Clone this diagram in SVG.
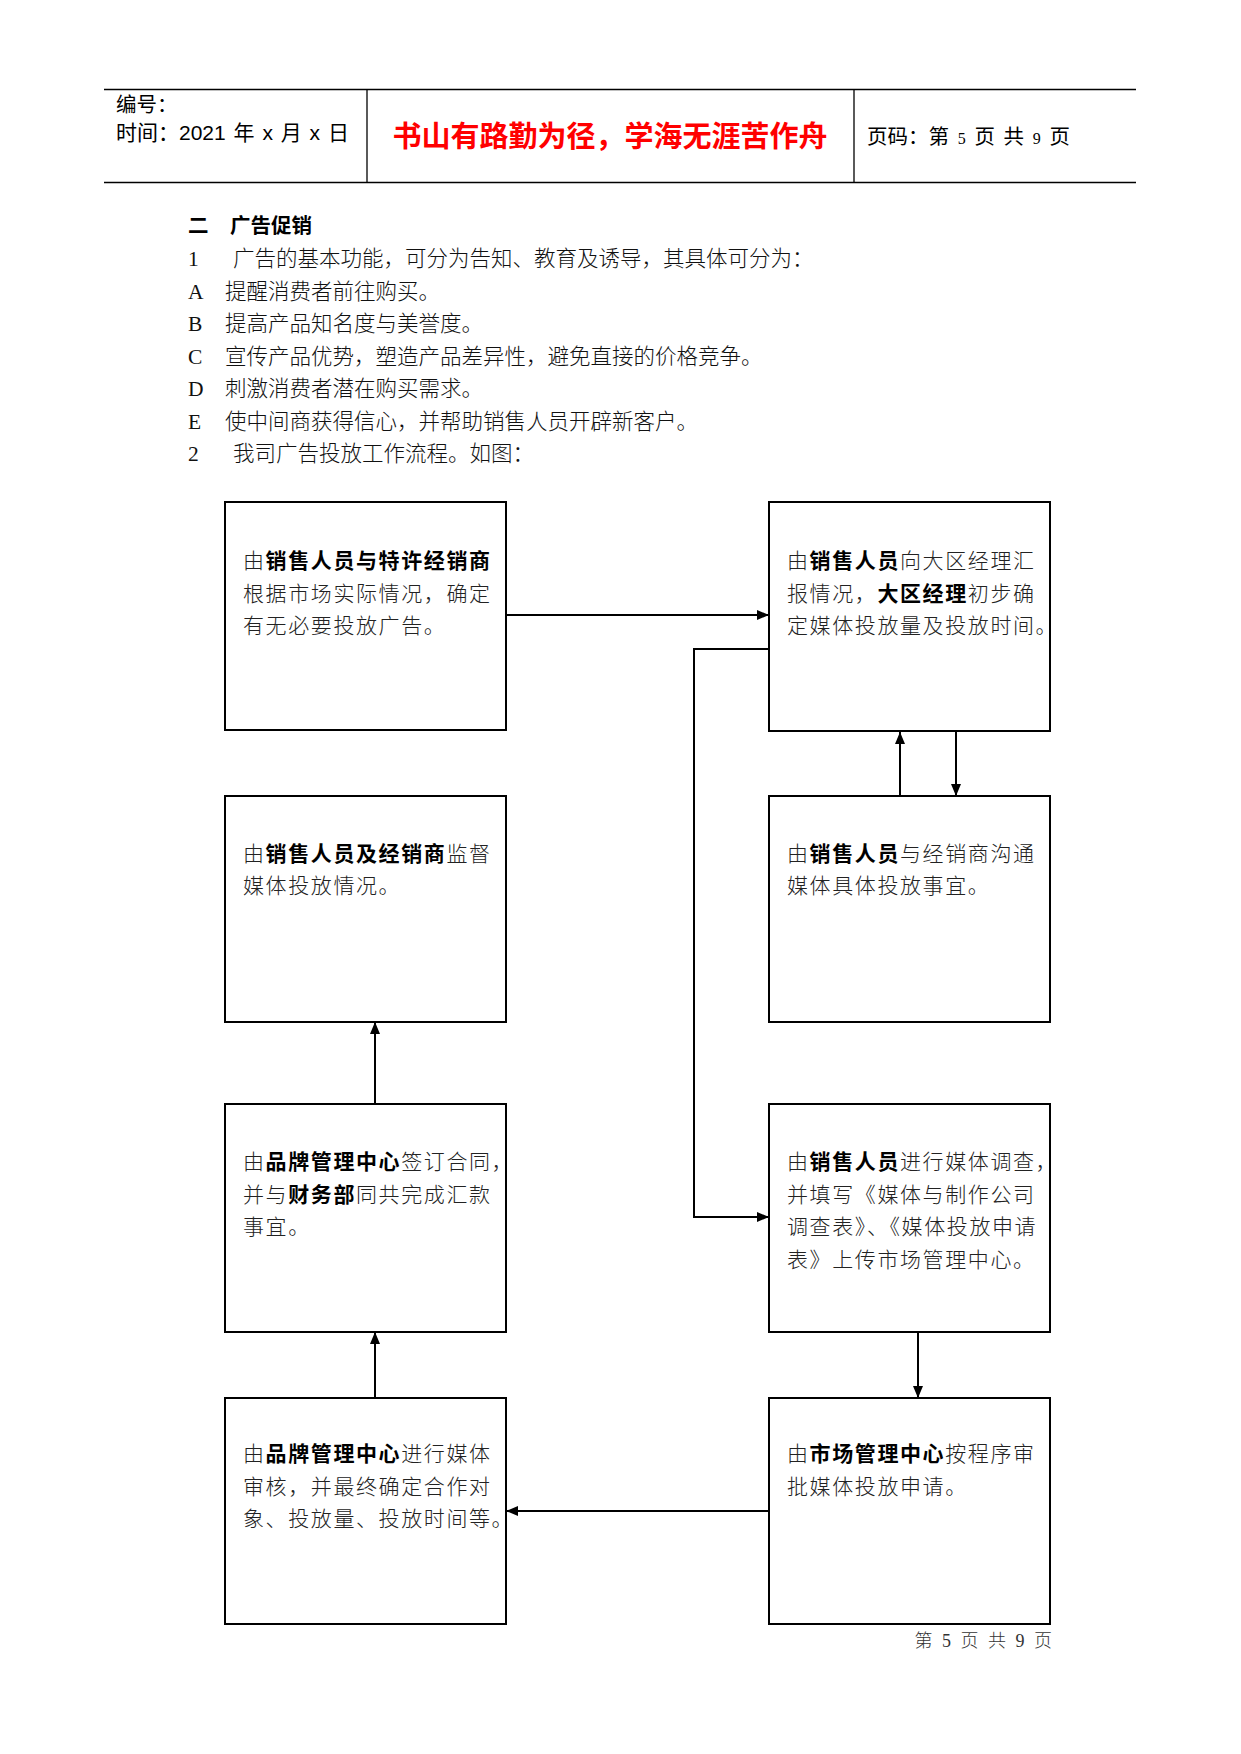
<svg xmlns="http://www.w3.org/2000/svg" width="1241" height="1754" viewBox="0 0 1241 1754">
<defs>
<marker id="ah" markerUnits="userSpaceOnUse" markerWidth="12" markerHeight="10" refX="12" refY="5" orient="auto">
<path d="M0,0 L12,5 L0,10 z" fill="#000"/>
</marker>
<style>
.hl{stroke:#000;stroke-width:1.3;fill:none}
.sans{font-family:"Liberation Sans","Noto Sans CJK SC",sans-serif;fill:#000}
.ser{font-family:"Liberation Serif","Noto Sans CJK SC",serif;font-size:21.5px;fill:#111;font-weight:300}
.box{fill:#fff;stroke:#000;stroke-width:2}
.bt{font-family:"Liberation Serif","Noto Sans CJK SC",serif;font-size:21px;fill:#222;font-weight:300;letter-spacing:1.6px}
.b{font-weight:bold;fill:#000}
.con{stroke:#000;stroke-width:2;fill:none}
</style>
</defs>
<rect width="1241" height="1754" fill="#fff"/>
<g id="header">
<line class="hl" x1="104" y1="89.5" x2="1136" y2="89.5"/>
<line class="hl" x1="104" y1="182.5" x2="1136" y2="182.5"/>
<line class="hl" x1="367" y1="89.5" x2="367" y2="182.5"/>
<line class="hl" x1="854" y1="89.5" x2="854" y2="182.5"/>
<text class="sans" x="116" y="112" font-size="20.5">编号：</text>
<text class="sans" x="116" y="140" font-size="21" word-spacing="2">时间：2021 年 x 月 x 日</text>
<text x="610" y="147" text-anchor="middle" font-family="'Noto Sans CJK SC',sans-serif" font-size="29" font-weight="bold" fill="#ff0000">书山有路勤为径，学海无涯苦作舟</text>
<text class="sans" x="867" y="144" font-size="20.5" word-spacing="3">页码：第 <tspan font-size="16" font-family="'Liberation Serif',serif">5</tspan> 页  共 <tspan font-size="16" font-family="'Liberation Serif',serif">9</tspan> 页</text>
</g>
<g id="intro">
<text class="sans" x="188" y="233" font-size="20.5" font-weight="bold">二</text>
<text class="sans" x="230" y="233" font-size="20.5" font-weight="bold">广告促销</text>
<text class="ser" x="188" y="266">1</text><text class="ser" x="233" y="266">广告的基本功能，可分为告知、教育及诱导，其具体可分为：</text>
<text class="ser" x="188" y="298.5">A</text><text class="ser" x="225" y="298.5">提醒消费者前往购买。</text>
<text class="ser" x="188" y="331">B</text><text class="ser" x="225" y="331">提高产品知名度与美誉度。</text>
<text class="ser" x="188" y="363.5">C</text><text class="ser" x="225" y="363.5">宣传产品优势，塑造产品差异性，避免直接的价格竞争。</text>
<text class="ser" x="188" y="396">D</text><text class="ser" x="225" y="396">刺激消费者潜在购买需求。</text>
<text class="ser" x="188" y="428.5">E</text><text class="ser" x="225" y="428.5">使中间商获得信心，并帮助销售人员开辟新客户。</text>
<text class="ser" x="188" y="461">2</text><text class="ser" x="233" y="461">我司广告投放工作流程。如图：</text>
</g>
<g id="connectors">
<line class="con" x1="506" y1="615" x2="769" y2="615" marker-end="url(#ah)"/>
<polyline class="con" stroke-width="1.6" points="769,649 694,649 694,1217 769,1217" marker-end="url(#ah)"/>
<line class="con" x1="900" y1="796" x2="900" y2="732" marker-end="url(#ah)"/>
<line class="con" x1="956" y1="732" x2="956" y2="796" marker-end="url(#ah)"/>
<line class="con" x1="918" y1="1332" x2="918" y2="1398" marker-end="url(#ah)"/>
<line class="con" x1="769" y1="1511" x2="506" y2="1511" marker-end="url(#ah)"/>
<line class="con" x1="375" y1="1398" x2="375" y2="1332" marker-end="url(#ah)"/>
<line class="con" x1="375" y1="1104" x2="375" y2="1022" marker-end="url(#ah)"/>
</g>
<g id="n1">
<rect class="box" x="225" y="502" width="281" height="228"/>
<text class="bt" x="243" y="568">由<tspan class="b">销售人员与特许经销商</tspan></text>
<text class="bt" x="243" y="600.5">根据市场实际情况，确定</text>
<text class="bt" x="243" y="633">有无必要投放广告。</text>
</g>
<g id="n2">
<rect class="box" x="769" y="502" width="281" height="229"/>
<text class="bt" x="787" y="568">由<tspan class="b">销售人员</tspan>向大区经理汇</text>
<text class="bt" x="787" y="600.5">报情况，<tspan class="b">大区经理</tspan>初步确</text>
<text class="bt" x="787" y="633" letter-spacing="0">定媒体投放量及投放时间。</text>
</g>
<g id="n3">
<rect class="box" x="225" y="796" width="281" height="226"/>
<text class="bt" x="243" y="860.5">由<tspan class="b">销售人员及经销商</tspan>监督</text>
<text class="bt" x="243" y="893">媒体投放情况。</text>
</g>
<g id="n4">
<rect class="box" x="769" y="796" width="281" height="226"/>
<text class="bt" x="787" y="860.5">由<tspan class="b">销售人员</tspan>与经销商沟通</text>
<text class="bt" x="787" y="893">媒体具体投放事宜。</text>
</g>
<g id="n5">
<rect class="box" x="225" y="1104" width="281" height="228"/>
<text class="bt" x="243" y="1169">由<tspan class="b">品牌管理中心</tspan>签订合同，</text>
<text class="bt" x="243" y="1201.5">并与<tspan class="b">财务部</tspan>同共完成汇款</text>
<text class="bt" x="243" y="1234">事宜。</text>
</g>
<g id="n6">
<rect class="box" x="769" y="1104" width="281" height="228"/>
<text class="bt" x="787" y="1169">由<tspan class="b">销售人员</tspan>进行媒体调查，</text>
<text class="bt" x="787" y="1201.5">并填写《媒体与制作公司</text>
<text class="bt" x="787" y="1234" letter-spacing="0.8">调查表》、《媒体投放申请</text>
<text class="bt" x="787" y="1266.5">表》上传市场管理中心。</text>
</g>
<g id="n7">
<rect class="box" x="225" y="1398" width="281" height="226"/>
<text class="bt" x="243" y="1461">由<tspan class="b">品牌管理中心</tspan>进行媒体</text>
<text class="bt" x="243" y="1493.5">审核，并最终确定合作对</text>
<text class="bt" x="243" y="1526" letter-spacing="0">象、投放量、投放时间等。</text>
</g>
<g id="n8">
<rect class="box" x="769" y="1398" width="281" height="226"/>
<text class="bt" x="787" y="1461">由<tspan class="b">市场管理中心</tspan>按程序审</text>
<text class="bt" x="787" y="1493.5">批媒体投放申请。</text>
</g>
<g id="footer">
<text x="1052" y="1647" text-anchor="end" font-family="'Liberation Serif','Noto Sans CJK SC',serif" font-size="18" font-weight="300" word-spacing="5" fill="#333">第 5 页 共 9 页</text>
</g>
</svg>
